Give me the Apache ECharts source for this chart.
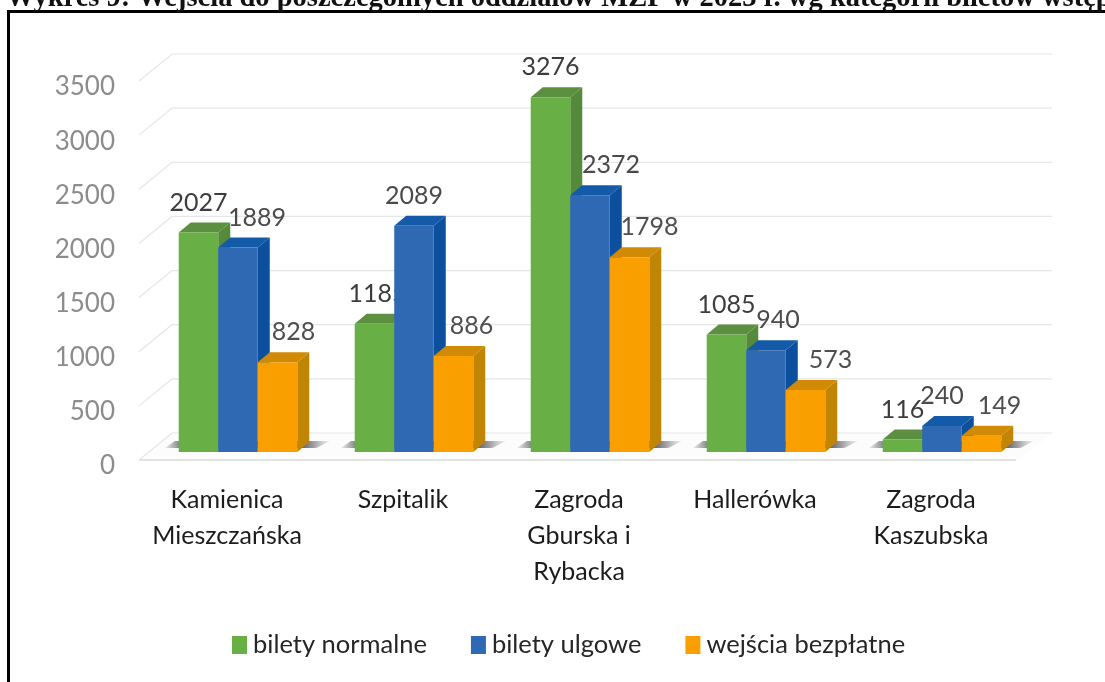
<!DOCTYPE html>
<html><head><meta charset="utf-8">
<style>html,body{margin:0;padding:0;background:#fff}#c{width:1105px;height:682px}</style>
<script src="https://cdn.jsdelivr.net/npm/echarts@6/dist/echarts.min.js"></script>
</head><body><div id="c"></div>
<script>
const titleText = 'Wykres 9: Wejścia do poszczególnych oddziałów MZP w 2023 r. wg kategorii biletów wstępu';
const categories = ['Kamienica\nMieszczańska', 'Szpitalik', 'Zagroda\nGburska i\nRybacka', 'Hallerówka', 'Zagroda\nKaszubska'];
const biletyNormalne = [2027, 1185, 3276, 1085, 116];
const biletyUlgowe = [1889, 2089, 2372, 940, 240];
const wejsciaBezplatne = [828, 886, 1798, 573, 149];
const yTicks = [0, 500, 1000, 1500, 2000, 2500, 3000, 3500];

// Hand-placed data-label nudges seen in the reference (x px per category)
const labelNudgeNormalne = [0, 3, 0, 0, 0];
const labelNudgeUlgowe = [19, 0, 21, 12, 0];
const labelNudgeBezplatne = [16, 18, 20, 25, 18];

const FONT = 'Lato, "Open Sans", sans-serif';
const WALL = { dx: 33, dy: -27 };     // back wall offset from front plane
const BAR_PLANE = { dx: 11, dy: -8 }; // front face of bars sits inside the floor
const BAR_DEPTH = { dx: 12, dy: -10 };

function wallRender(params, api) {
  const v = api.value(0);
  const cs = params.coordSys;
  const y = api.coord([0, v])[1];
  const l = cs.x, r = cs.x + cs.width;
  const shapes = [{
    type: 'polyline', silent: true,
    shape: { points: [[l, y], [l + WALL.dx, y + WALL.dy], [r + WALL.dx, y + WALL.dy]] },
    style: { fill: null, stroke: '#e6e6e6', lineWidth: 1.2 }
  }];
  if (v === 0) {
    shapes.unshift({
      type: 'polygon', silent: true,
      shape: { points: [[l, y], [l + WALL.dx, y + WALL.dy], [r + WALL.dx, y + WALL.dy], [r, y]] },
      style: { fill: '#fcfcfc', stroke: null }
    });
    shapes.push({
      type: 'line', silent: true,
      shape: { x1: l, y1: y, x2: r - 3, y2: y },
      style: { stroke: '#e2e2e2', lineWidth: 2 }
    });
  }
  return { type: 'group', children: shapes };
}

function shadowRender(params, api) {
  const p = api.coord([api.value(0), 0]);
  const w = api.size([1, 0])[0] * 0.224;
  const cx = p[0] + BAR_PLANE.dx;
  const y = p[1] + BAR_PLANE.dy - 8;
  const L = cx - 1.5 * w - 14, R = cx + 1.5 * w + 33;
  return {
    type: 'polygon', silent: true,
    shape: { points: [[L, y + 4], [L + 10, y - 3], [R, y - 3], [R - 14, y + 4]] },
    style: {
      fill: new echarts.graphic.LinearGradient(0, 0, 1, 0, [
        { offset: 0, color: 'rgba(120,120,128,0.1)' },
        { offset: 0.1, color: '#77777e' },
        { offset: 0.84, color: '#66666c' },
        { offset: 1, color: 'rgba(120,120,128,0.05)' }
      ]), stroke: null
    }
  };
}

function barRender(slot, colors, nudge) {
  return function (params, api) {
    const cat = api.value(0), val = api.value(1);
    const top = api.coord([cat, val]);
    const base = api.coord([cat, 0]);
    const w = api.size([1, 0])[0] * 0.2245;
    const x0 = top[0] + BAR_PLANE.dx + (slot - 1.5) * w;
    const x1 = x0 + w;
    const yT = top[1] + BAR_PLANE.dy;
    const yB = base[1] + BAR_PLANE.dy;
    const d = BAR_DEPTH;
    return {
      type: 'group',
      children: [
        { type: 'polygon', silent: true,
          shape: { points: [[x1, yT], [x1 + d.dx, yT + d.dy], [x1 + d.dx, yB + d.dy], [x1, yB]] },
          style: { fill: colors.side } },
        { type: 'polygon', silent: true,
          shape: { points: [[x0, yT], [x0 + d.dx, yT + d.dy], [x1 + d.dx, yT + d.dy], [x1, yT]] },
          style: { fill: colors.top } },
        { type: 'rect', silent: true,
          shape: { x: x0, y: yT, width: w, height: yB - yT },
          style: { fill: colors.front } },
        { type: 'text', silent: true,
          style: {
            x: x0 + w / 2 + nudge[cat], y: yT - 30, text: String(val),
            align: 'center', verticalAlign: 'middle',
            fill: colors.label, font: '25px ' + FONT
          } }
      ]
    };
  };
}

function tuples(vals) { return vals.map((v, i) => [i, v]); }

const chart = echarts.init(document.getElementById('c'), null, { renderer: 'canvas' });
chart.setOption({
  animation: false,
  backgroundColor: '#ffffff',
  title: {
    text: titleText, left: 6, top: -16, padding: 0,
    textStyle: { fontFamily: '"Liberation Serif", serif', fontWeight: 'bold', fontSize: 28.5, color: '#111' }
  },
  graphic: [
    { type: 'rect', silent: true, shape: { x: 7, y: 10, width: 1098, height: 3 }, style: { fill: '#000' } },
    { type: 'rect', silent: true, shape: { x: 7, y: 10, width: 3, height: 672 }, style: { fill: '#000' } }
  ],
  grid: { left: 139, width: 880, top: 81, height: 379, containLabel: false },
  xAxis: {
    type: 'category', data: categories,
    axisLine: { show: false }, axisTick: { show: false },
    axisLabel: {
      margin: 22, interval: 0, color: '#1c1c1c', fontFamily: FONT, fontSize: 25, lineHeight: 36,
      verticalAlign: 'top'
    }
  },
  yAxis: {
    type: 'value', min: 0, max: 3500, interval: 500,
    axisLine: { show: false }, axisTick: { show: false }, splitLine: { show: false },
    axisLabel: {
      margin: 24, color: '#8c8c8c', fontFamily: FONT, fontSize: 26, verticalAlign: 'top', lineHeight: 12,
      formatter: v => String(v)
    }
  },
  legend: {
    left: 227, top: 627, itemWidth: 15, itemHeight: 18, itemGap: 44, icon: 'rect',
    data: ['bilety normalne', 'bilety ulgowe', 'wejścia bezpłatne'],
    textStyle: { color: '#262626', fontFamily: FONT, fontSize: 25.5, padding: [0, 0, 0, 1] }
  },
  series: [
    { type: 'custom', name: 'grid', silent: true, renderItem: wallRender,
      data: yTicks.map(v => [v]), encode: { y: 0 }, clip: false },
    { type: 'custom', name: 'shadow', silent: true, renderItem: shadowRender,
      data: categories.map((c, i) => [i]), encode: { x: 0 }, clip: false },
    { type: 'custom', name: 'bilety normalne', clip: false,
      itemStyle: { color: '#68b045' },
      renderItem: barRender(0, { front: '#68b045', side: '#558a3a', top: '#5c8f3f', label: '#3d3d3d' }, labelNudgeNormalne),
      data: tuples(biletyNormalne), encode: { x: 0, y: 1 } },
    { type: 'custom', name: 'bilety ulgowe', clip: false,
      itemStyle: { color: '#2f69b3' },
      renderItem: barRender(1, { front: '#2f69b3', side: '#0b4f9e', top: '#135aa8', label: '#4a4a4a' }, labelNudgeUlgowe),
      data: tuples(biletyUlgowe), encode: { x: 0, y: 1 } },
    { type: 'custom', name: 'wejścia bezpłatne', clip: false,
      itemStyle: { color: '#f9a000' },
      renderItem: barRender(2, { front: '#f9a000', side: '#c08503', top: '#d18a05', label: '#4f4f4f' }, labelNudgeBezplatne),
      data: tuples(wejsciaBezplatne), encode: { x: 0, y: 1 } }
  ]
});
</script></body></html>
